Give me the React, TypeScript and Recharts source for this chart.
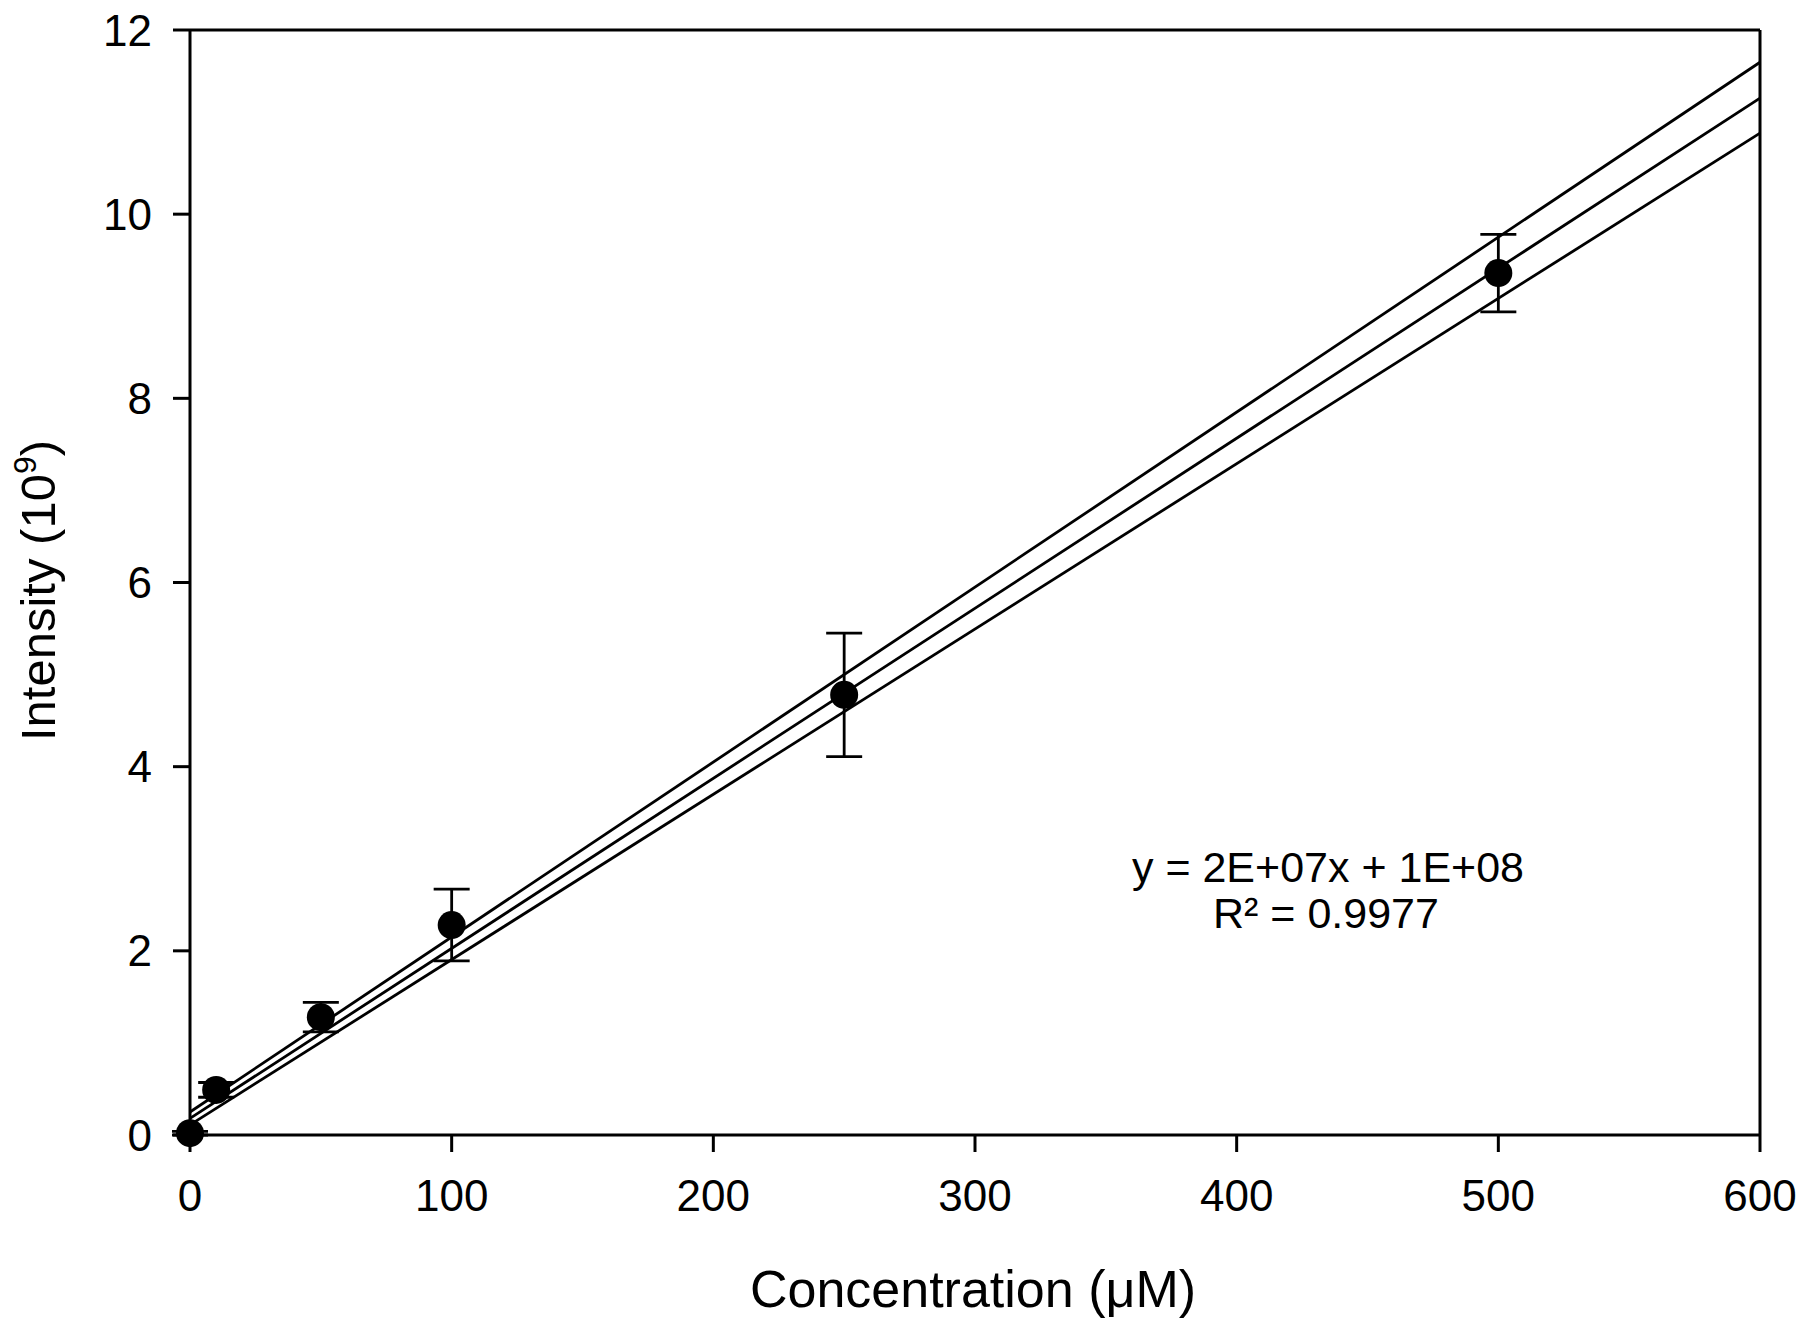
import React from 'react';
import {
  ComposedChart,
  Line,
  Scatter,
  ErrorBar,
  XAxis,
  YAxis,
  ReferenceLine,
  Label,
  Customized,
} from 'recharts';

const concentrations = [0, 10, 50, 100, 250, 500];
const meanIntensity = [0.02, 0.49, 1.28, 2.28, 4.78, 9.36];
const sdIntensity = [0.02, 0.08, 0.16, 0.39, 0.67, 0.42];

const fitX = [0, 600];
const fitCenter = [0.18, 11.26];
const fitUpper = [0.25, 11.65];
const fitLower = [0.11, 10.88];

const xTicks = [0, 100, 200, 300, 400, 500, 600];
const yTicks = [0, 2, 4, 6, 8, 10, 12];

const equationLines = ['y = 2E+07x + 1E+08', 'R² = 0.9977'];

const scatterData = concentrations.map((x, i) => ({ x, y: meanIntensity[i], err: sdIntensity[i] }));
const centerData = fitX.map((x, i) => ({ x, y: fitCenter[i] }));
const upperData = fitX.map((x, i) => ({ x, y: fitUpper[i] }));
const lowerData = fitX.map((x, i) => ({ x, y: fitLower[i] }));

const FONT = '"Liberation Sans", Arial, Helvetica, sans-serif';

const Dot = (props: any) => {
  if (props.cx == null || props.cy == null) return null;
  return <circle cx={props.cx} cy={props.cy} r={14} fill="#000" />;
};

const YLabel = (props: any) => {
  const vb = props.viewBox || { x: 0, y: 30, width: 190, height: 1105 };
  const cx = vb.x + 55;
  const cy = vb.y + vb.height / 2 + 8;
  return (
    <text
      x={cx}
      y={cy}
      transform={`rotate(-90, ${cx}, ${cy})`}
      textAnchor="middle"
      fontFamily={FONT}
      fontSize={49}
      fill="#000"
    >
      Intensity (10
      <tspan fontSize={32} dy={-19}>9</tspan>
      <tspan dy={19}>)</tspan>
    </text>
  );
};

const XLabel = (props: any) => {
  const vb = props.viewBox || { x: 190, y: 1135, width: 1570, height: 189 };
  return (
    <text
      x={vb.x + vb.width / 2 - 2}
      y={vb.y + 172}
      textAnchor="middle"
      fontFamily={FONT}
      fontSize={52}
      fill="#000"
    >
      Concentration (μM)
    </text>
  );
};

const Equation = () => (
  <g>
    <text x={1328} y={882} textAnchor="middle" fontFamily={FONT} fontSize={43} fill="#000">
      {equationLines[0]}
    </text>
    <text x={1326} y={928} textAnchor="middle" fontFamily={FONT} fontSize={43} fill="#000">
      {equationLines[1]}
    </text>
  </g>
);

export default function App() {
  return (
    <div style={{ position: 'absolute', left: 0, top: 0, width: 1800, height: 1324, background: '#fff' }}>
      <ComposedChart
        width={1800}
        height={1324}
        margin={{ top: 30, right: 40, left: 0, bottom: 0 }}
      >
        <XAxis
          type="number"
          dataKey="x"
          domain={[0, 600]}
          ticks={xTicks}
          height={189}
          tickSize={17}
          tickMargin={28}
          axisLine={{ stroke: '#000', strokeWidth: 3 }}
          tickLine={{ stroke: '#000', strokeWidth: 3 }}
          tick={{ fill: '#000', fontSize: 44, fontFamily: FONT }}
        >
          <Label content={<XLabel />} />
        </XAxis>
        <YAxis
          type="number"
          dataKey="y"
          domain={[0, 12]}
          ticks={yTicks}
          width={190}
          tickSize={17}
          tickMargin={21}
          axisLine={{ stroke: '#000', strokeWidth: 3 }}
          tickLine={{ stroke: '#000', strokeWidth: 3 }}
          tick={{ fill: '#000', fontSize: 44, fontFamily: FONT }}
        >
          <Label content={<YLabel />} />
        </YAxis>
        <ReferenceLine y={12} stroke="#000" strokeWidth={3} />
        <ReferenceLine x={600} stroke="#000" strokeWidth={3} />
        <Line data={upperData} dataKey="y" type="linear" stroke="#000" strokeWidth={2.8} dot={false} activeDot={false} isAnimationActive={false} />
        <Line data={centerData} dataKey="y" type="linear" stroke="#000" strokeWidth={2.8} dot={false} activeDot={false} isAnimationActive={false} />
        <Line data={lowerData} dataKey="y" type="linear" stroke="#000" strokeWidth={2.8} dot={false} activeDot={false} isAnimationActive={false} />
        <Scatter data={scatterData} dataKey="y" shape={<Dot />} isAnimationActive={false}>
          <ErrorBar dataKey="err" direction="y" width={18} stroke="#000" strokeWidth={2.8} isAnimationActive={false} />
        </Scatter>
        <Customized component={Equation} />
      </ComposedChart>
    </div>
  );
}
